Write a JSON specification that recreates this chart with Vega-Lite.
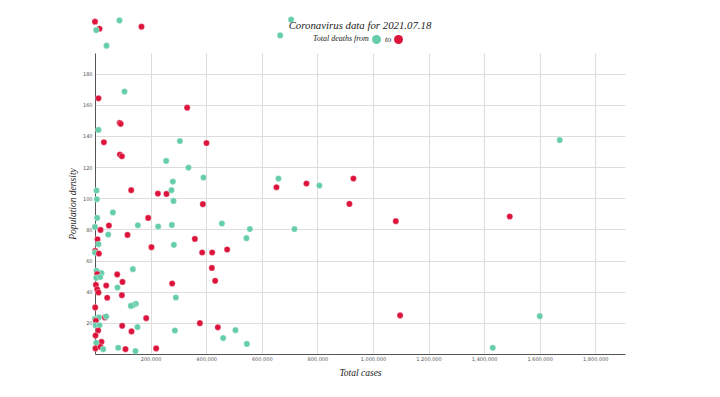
{
  "$schema": "https://vega.github.io/schema/vega-lite/v6.json",
  "width": 530,
  "height": 301,
  "autosize": {"type": "none"},
  "padding": {"left": 95, "top": 53, "right": 95, "bottom": 43},
  "background": "#ffffff",
  "config": {
    "view": {"stroke": null},
    "axis": {
      "labelFont": "DejaVu Sans",
      "labelFontSize": 5,
      "labelColor": "#555555",
      "ticks": false,
      "gridColor": "#dddddd",
      "gridWidth": 1,
      "domainColor": "#555555",
      "domainWidth": 1,
      "titleFont": "Liberation Serif",
      "titleFontStyle": "italic",
      "titleFontWeight": "normal",
      "titleFontSize": 9.5,
      "titleColor": "#222222"
    }
  },
  "title": {
    "text": "Coronavirus data for 2021.07.18",
    "font": "Liberation Serif",
    "fontStyle": "italic",
    "fontWeight": "normal",
    "fontSize": 10.8,
    "color": "#222222",
    "anchor": "middle",
    "offset": -15
  },
  "data": {
    "values": [
      {"cases": 0, "density": 213.4, "deaths": "high"},
      {"cases": 88100, "density": 214.2, "deaths": "low"},
      {"cases": 16200, "density": 208.9, "deaths": "high"},
      {"cases": 4300, "density": 208.0, "deaths": "low"},
      {"cases": 167300, "density": 210.2, "deaths": "high"},
      {"cases": 41400, "density": 198.0, "deaths": "low"},
      {"cases": 705700, "density": 214.7, "deaths": "low"},
      {"cases": 666200, "density": 204.6, "deaths": "low"},
      {"cases": 12600, "density": 164.2, "deaths": "high"},
      {"cases": 106100, "density": 168.5, "deaths": "low"},
      {"cases": 331600, "density": 158.2, "deaths": "high"},
      {"cases": 12600, "density": 143.9, "deaths": "low"},
      {"cases": 88800, "density": 148.5, "deaths": "high"},
      {"cases": 92400, "density": 147.8, "deaths": "high"},
      {"cases": 32000, "density": 136.0, "deaths": "high"},
      {"cases": 305400, "density": 136.8, "deaths": "low"},
      {"cases": 401100, "density": 135.5, "deaths": "high"},
      {"cases": 89600, "density": 128.1, "deaths": "high"},
      {"cases": 96800, "density": 127.0, "deaths": "high"},
      {"cases": 256100, "density": 124.0, "deaths": "low"},
      {"cases": 336300, "density": 119.7, "deaths": "low"},
      {"cases": 390300, "density": 113.3, "deaths": "low"},
      {"cases": 280200, "density": 110.7, "deaths": "low"},
      {"cases": 5400, "density": 105.0, "deaths": "low"},
      {"cases": 130200, "density": 105.2, "deaths": "high"},
      {"cases": 226300, "density": 103.0, "deaths": "high"},
      {"cases": 257200, "density": 102.8, "deaths": "high"},
      {"cases": 275200, "density": 105.2, "deaths": "low"},
      {"cases": 6800, "density": 99.4, "deaths": "low"},
      {"cases": 282400, "density": 98.3, "deaths": "low"},
      {"cases": 388100, "density": 96.2, "deaths": "high"},
      {"cases": 660100, "density": 112.7, "deaths": "low"},
      {"cases": 652900, "density": 107.1, "deaths": "high"},
      {"cases": 760800, "density": 109.5, "deaths": "high"},
      {"cases": 807500, "density": 108.2, "deaths": "low"},
      {"cases": 929800, "density": 112.7, "deaths": "high"},
      {"cases": 915400, "density": 96.4, "deaths": "high"},
      {"cases": 1672200, "density": 137.4, "deaths": "low"},
      {"cases": 1492400, "density": 88.3, "deaths": "high"},
      {"cases": 1097800, "density": 24.8, "deaths": "high"},
      {"cases": 1600300, "density": 24.3, "deaths": "low"},
      {"cases": 1431200, "density": 4.0, "deaths": "low"},
      {"cases": 1082300, "density": 85.3, "deaths": "high"},
      {"cases": 64400, "density": 90.9, "deaths": "low"},
      {"cases": 7900, "density": 87.4, "deaths": "low"},
      {"cases": 191400, "density": 87.4, "deaths": "high"},
      {"cases": 0, "density": 81.6, "deaths": "low"},
      {"cases": 50000, "density": 82.5, "deaths": "high"},
      {"cases": 19800, "density": 79.7, "deaths": "high"},
      {"cases": 154300, "density": 82.7, "deaths": "low"},
      {"cases": 227300, "density": 81.9, "deaths": "low"},
      {"cases": 276600, "density": 82.9, "deaths": "low"},
      {"cases": 47500, "density": 76.7, "deaths": "low"},
      {"cases": 116900, "density": 76.5, "deaths": "high"},
      {"cases": 9000, "density": 73.7, "deaths": "high"},
      {"cases": 359300, "density": 73.9, "deaths": "high"},
      {"cases": 12600, "density": 70.5, "deaths": "low"},
      {"cases": 283800, "density": 70.1, "deaths": "low"},
      {"cases": 203200, "density": 68.6, "deaths": "high"},
      {"cases": 700, "density": 66.2, "deaths": "high"},
      {"cases": 0, "density": 65.2, "deaths": "low"},
      {"cases": 14000, "density": 64.5, "deaths": "high"},
      {"cases": 385600, "density": 65.2, "deaths": "high"},
      {"cases": 421600, "density": 65.2, "deaths": "high"},
      {"cases": 420500, "density": 55.3, "deaths": "high"},
      {"cases": 136300, "density": 54.5, "deaths": "low"},
      {"cases": 5400, "density": 53.4, "deaths": "low"},
      {"cases": 23400, "density": 51.9, "deaths": "low"},
      {"cases": 7900, "density": 51.3, "deaths": "high"},
      {"cases": 79900, "density": 51.1, "deaths": "high"},
      {"cases": 4300, "density": 48.9, "deaths": "low"},
      {"cases": 18700, "density": 49.5, "deaths": "low"},
      {"cases": 98900, "density": 46.3, "deaths": "high"},
      {"cases": 432400, "density": 47.0, "deaths": "high"},
      {"cases": 277700, "density": 45.3, "deaths": "high"},
      {"cases": 3200, "density": 44.4, "deaths": "high"},
      {"cases": 40300, "density": 44.0, "deaths": "high"},
      {"cases": 80900, "density": 42.7, "deaths": "low"},
      {"cases": 7900, "density": 41.5, "deaths": "high"},
      {"cases": 12600, "density": 39.5, "deaths": "high"},
      {"cases": 96800, "density": 37.8, "deaths": "high"},
      {"cases": 291000, "density": 36.3, "deaths": "low"},
      {"cases": 43900, "density": 36.1, "deaths": "high"},
      {"cases": 147100, "density": 32.2, "deaths": "low"},
      {"cases": 137400, "density": 31.4, "deaths": "low"},
      {"cases": 129100, "density": 30.9, "deaths": "low"},
      {"cases": 700, "density": 29.9, "deaths": "high"},
      {"cases": 184200, "density": 23.0, "deaths": "high"},
      {"cases": 0, "density": 22.6, "deaths": "low"},
      {"cases": 14000, "density": 23.5, "deaths": "low"},
      {"cases": 35600, "density": 23.5, "deaths": "high"},
      {"cases": 40300, "density": 24.1, "deaths": "low"},
      {"cases": 3200, "density": 21.3, "deaths": "high"},
      {"cases": 377300, "density": 19.8, "deaths": "high"},
      {"cases": 1800, "density": 18.4, "deaths": "low"},
      {"cases": 16200, "density": 18.4, "deaths": "low"},
      {"cases": 97800, "density": 18.1, "deaths": "high"},
      {"cases": 152900, "density": 17.3, "deaths": "low"},
      {"cases": 442100, "density": 17.1, "deaths": "high"},
      {"cases": 11500, "density": 15.1, "deaths": "high"},
      {"cases": 287400, "density": 15.1, "deaths": "low"},
      {"cases": 131300, "density": 14.5, "deaths": "high"},
      {"cases": 1800, "density": 11.9, "deaths": "high"},
      {"cases": 23400, "density": 7.8, "deaths": "high"},
      {"cases": 4300, "density": 7.2, "deaths": "low"},
      {"cases": 1800, "density": 3.6, "deaths": "high"},
      {"cases": 19800, "density": 4.6, "deaths": "high"},
      {"cases": 29500, "density": 3.1, "deaths": "low"},
      {"cases": 83500, "density": 4.0, "deaths": "low"},
      {"cases": 109700, "density": 3.1, "deaths": "high"},
      {"cases": 220100, "density": 3.6, "deaths": "high"},
      {"cases": 145700, "density": 1.9, "deaths": "low"},
      {"cases": 456500, "density": 83.8, "deaths": "low"},
      {"cases": 557200, "density": 80.3, "deaths": "low"},
      {"cases": 717600, "density": 80.3, "deaths": "low"},
      {"cases": 544900, "density": 74.4, "deaths": "low"},
      {"cases": 475500, "density": 67.1, "deaths": "high"},
      {"cases": 505400, "density": 15.3, "deaths": "low"},
      {"cases": 461100, "density": 10.2, "deaths": "low"},
      {"cases": 546400, "density": 6.5, "deaths": "low"}
    ]
  },
  "mark": {"type": "point", "filled": true, "opacity": 1, "size": 38, "stroke": "#ffffff", "strokeWidth": 0.4, "strokeOpacity": 0.8},
  "encoding": {
    "x": {
      "field": "cases",
      "type": "quantitative",
      "title": "Total cases",
      "scale": {"domain": [0, 1907000], "nice": false, "zero": true},
      "axis": {
        "values": [200000, 400000, 600000, 800000, 1000000, 1200000, 1400000, 1600000, 1800000],
        "labelExpr": "format(datum.value, ',')",
        "labelPadding": 2,
        "titlePadding": 6
      }
    },
    "y": {
      "field": "density",
      "type": "quantitative",
      "title": "Population density",
      "scale": {"domain": [0, 193.3], "nice": false},
      "axis": {
        "values": [20, 40, 60, 80, 100, 120, 140, 160, 180],
        "labelPadding": 3,
        "titlePadding": 5
      }
    },
    "color": {
      "field": "deaths",
      "type": "nominal",
      "scale": {"domain": ["low", "high"], "range": ["#66cdaa", "#dc143c"]},
      "legend": {
        "orient": "none",
        "legendX": 218,
        "legendY": -18,
        "direction": "horizontal",
        "title": "Total deaths from",
        "titleOrient": "left",
        "titleFont": "Liberation Serif",
        "titleFontStyle": "italic",
        "titleFontWeight": "normal",
        "titleFontSize": 8,
        "titleColor": "#222222",
        "titlePadding": 3,
        "titleBaseline": "middle",
        "labelFont": "Liberation Serif",
        "labelFontStyle": "italic",
        "labelFontSize": 8,
        "labelColor": "#222222",
        "labelOffset": 4,
        "columnPadding": 2,
        "symbolType": "circle",
        "symbolSize": 80,
        "symbolStrokeWidth": 0,
        "labelExpr": "datum.value == 'low' ? 'to' : ''"
      }
    }
  }
}
